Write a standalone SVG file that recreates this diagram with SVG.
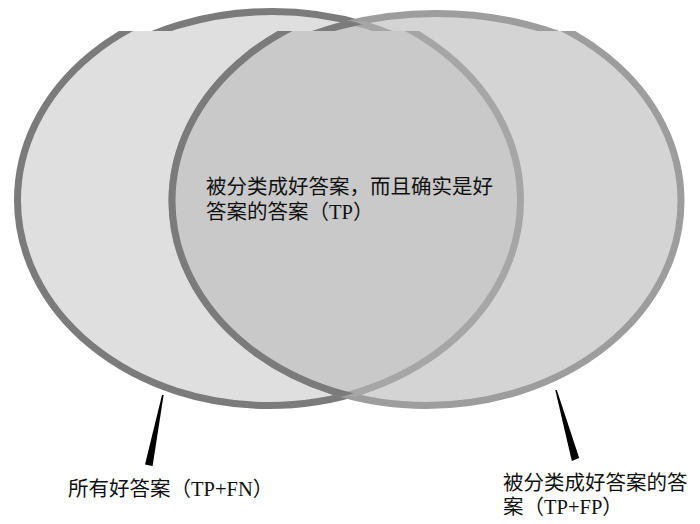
<svg xmlns="http://www.w3.org/2000/svg" xmlns:xlink="http://www.w3.org/1999/xlink" width="700" height="524" viewBox="0 0 700 524">
<style>
.lbl{font-family:"Liberation Serif","Noto Sans CJK SC",serif;font-size:20.5px;fill:#111}
.sw{stroke-width:7}
</style>
<defs>
<ellipse id="eL" cx="269" cy="200" rx="251.5" ry="205.5"/>
<ellipse id="eR" cx="426.5" cy="201" rx="254.5" ry="204.5"/>
<ellipse id="tL" cx="272" cy="202" rx="251.5" ry="190.5"/>
<ellipse id="tR" cx="436" cy="182" rx="254.5" ry="168.5"/>
<clipPath id="cpLow"><rect x="0" y="31" width="700" height="493"/></clipPath>
<clipPath id="cpTop"><rect x="0" y="0" width="700" height="31"/></clipPath>
<clipPath id="cpInL"><use xlink:href="#eL"/></clipPath>
<clipPath id="cpInR"><use xlink:href="#eR"/></clipPath>
<clipPath id="cpInTL"><use xlink:href="#tL"/></clipPath>
<clipPath id="cpInTR"><use xlink:href="#tR"/></clipPath>
</defs>
<rect width="700" height="524" fill="#fff"/>
<g id="node-all-good">
 <g clip-path="url(#cpLow)"><use xlink:href="#eL" fill="#dfdfdf" stroke="#7b7b7b" class="sw"/></g>
 <g clip-path="url(#cpTop)"><use xlink:href="#tL" fill="#dfdfdf" stroke="#7b7b7b" class="sw"/></g>
</g>
<g id="node-classified-good">
 <g clip-path="url(#cpLow)"><use xlink:href="#eR" fill="#d4d4d4" stroke="#9d9d9d" class="sw"/></g>
 <g clip-path="url(#cpTop)"><use xlink:href="#tR" fill="#d4d4d4" stroke="#9d9d9d" class="sw"/></g>
</g>
<g id="node-tp">
 <g clip-path="url(#cpLow)">
  <use xlink:href="#eR" fill="#c9c9c9" clip-path="url(#cpInL)"/>
  <use xlink:href="#eL" fill="none" stroke="#a6a6a6" class="sw" clip-path="url(#cpInR)"/>
  <use xlink:href="#eR" fill="none" stroke="#7b7b7b" class="sw" clip-path="url(#cpInL)"/>
 </g>
 <g clip-path="url(#cpTop)">
  <use xlink:href="#tR" fill="#c9c9c9" clip-path="url(#cpInTL)"/>
  <use xlink:href="#tL" fill="none" stroke="#a6a6a6" class="sw" clip-path="url(#cpInTR)"/>
  <use xlink:href="#tR" fill="none" stroke="#7b7b7b" class="sw" clip-path="url(#cpInTL)"/>
 </g>
 <text class="lbl" x="206" y="194">被分类成好答案，而且确实是好</text>
 <text class="lbl" x="206" y="219">答案的答案（TP）</text>
</g>
<g id="connectors" fill="#000">
 <polygon points="162,395 163.6,395 152.6,466 145,464.5"/>
 <polygon points="555.3,390 556.8,390 579.2,458 571.8,461"/>
</g>
<g id="label-all-good">
 <text class="lbl" x="68" y="495.5">所有好答案（TP+FN）</text>
</g>
<g id="label-classified-good">
 <text class="lbl" x="503" y="490">被分类成好答案的答</text>
 <text class="lbl" x="503" y="514">案（TP+FP）</text>
</g>
</svg>
